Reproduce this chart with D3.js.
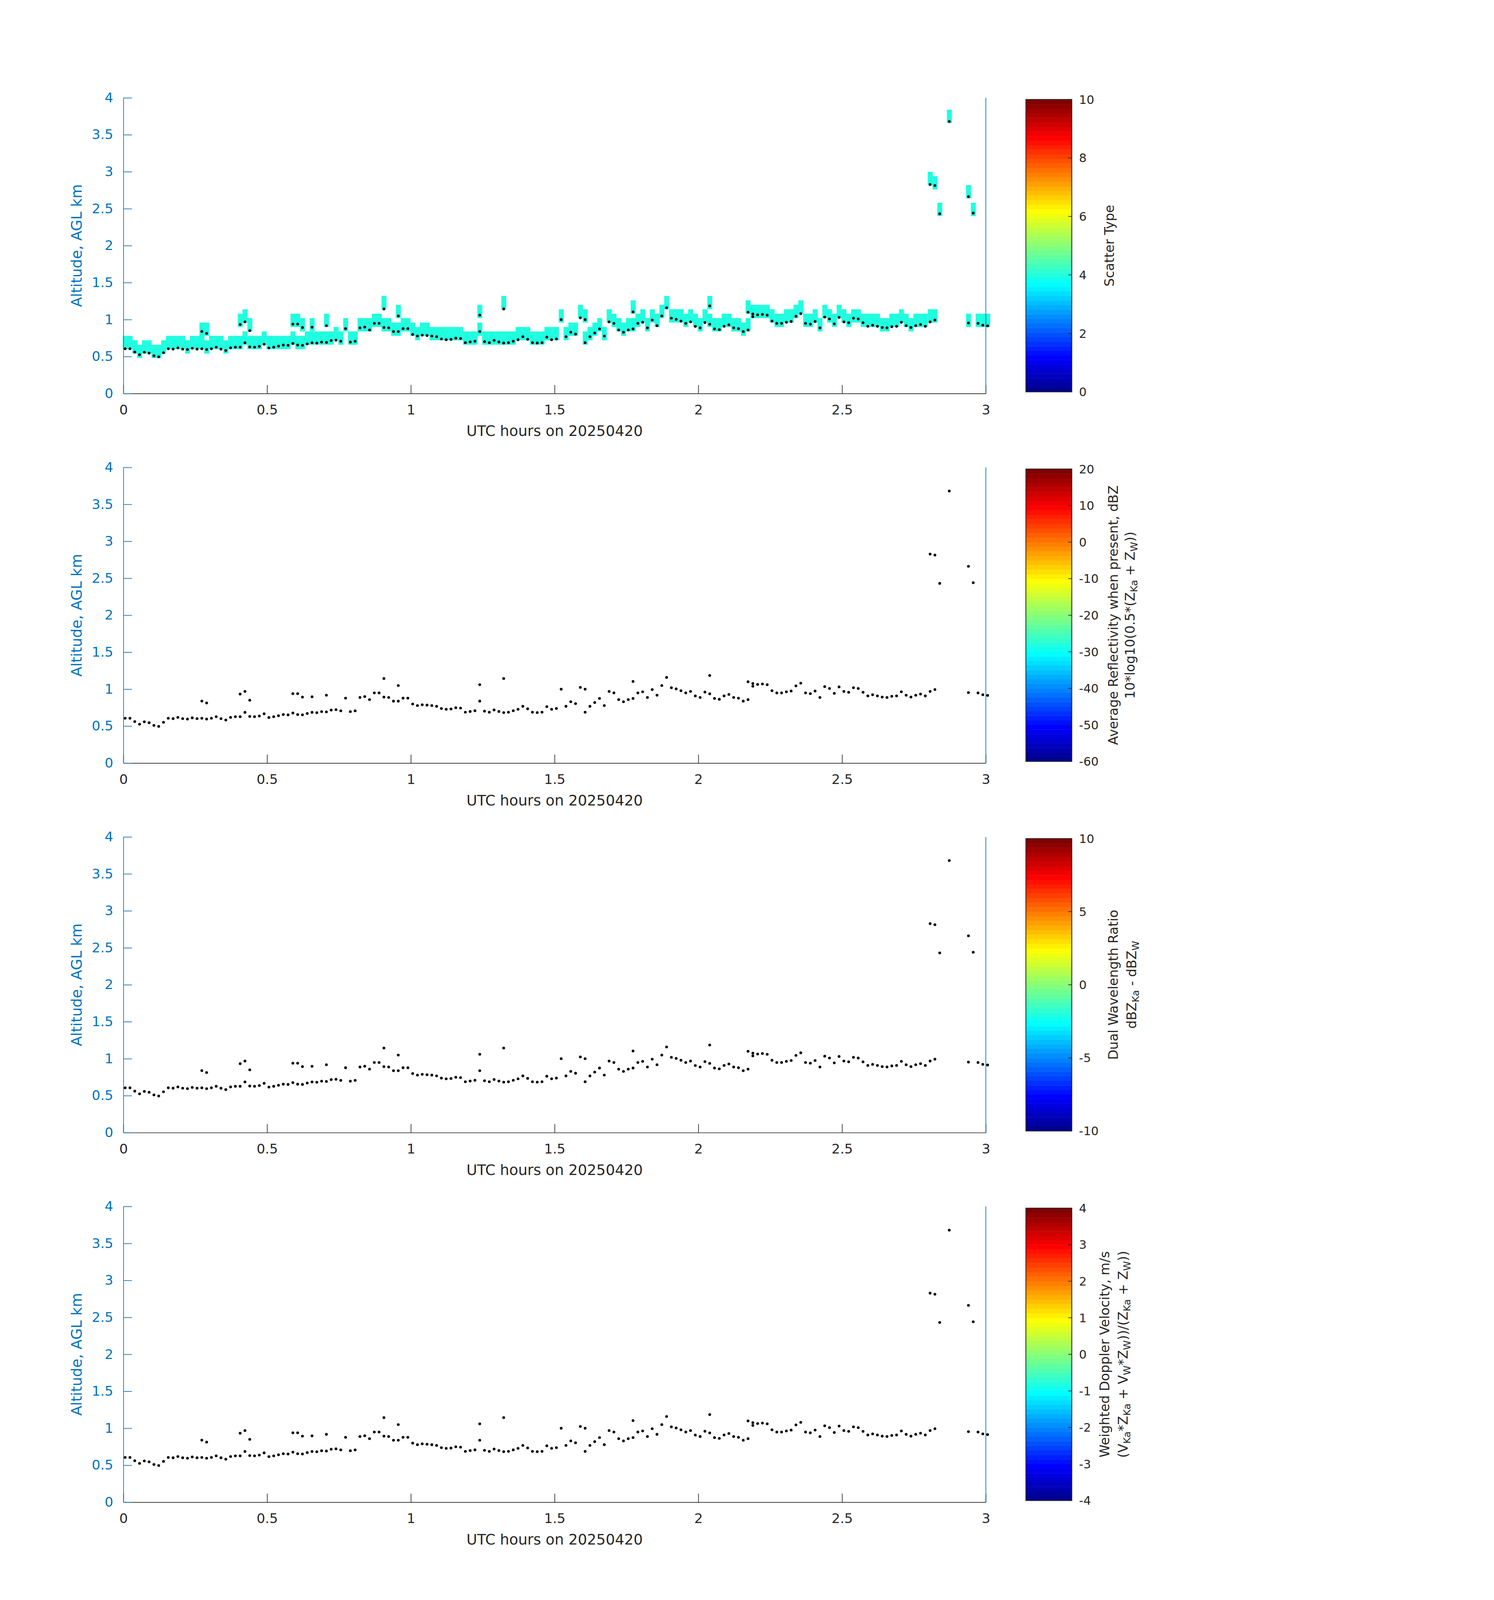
<!DOCTYPE html>
<html>
<head>
<meta charset="utf-8">
<script src="https://cdn.jsdelivr.net/npm/d3@7"></script>
<style>
html, body { margin: 0; padding: 0; background: #fff; overflow: hidden; }
#canvas svg { display: block; }
text { font-family: "DejaVu Sans", sans-serif; }
</style>
</head>
<body>
<div id="canvas"></div>
<script>
// cloud base altitude (km AGL), one value per 1-minute sample, null = nothing detected
var baseAlt = [
  0.606, 0.606, 0.561, 0.525, 0.558, 0.546, 0.510, 0.496, 0.552, 0.606,
  0.601, 0.618, 0.601, 0.595, 0.612, 0.601, 0.606, 0.595, 0.606, 0.627,
  0.601, 0.582, 0.618, 0.627, 0.627, 0.686, 0.631, 0.627, 0.637, 0.667,
  0.616, 0.627, 0.641, 0.656, 0.652, 0.677, 0.656, 0.652, 0.671, 0.686,
  0.682, 0.696, 0.692, 0.717, 0.722, 0.707, 0.878, 0.696, 0.707, 0.888,
  0.899, 0.859, 0.949, 0.949, 0.893, 0.888, 0.838, 0.838, 0.878, 0.878,
  0.799, 0.778, 0.789, 0.784, 0.778, 0.768, 0.738, 0.728, 0.732, 0.749,
  0.744, 0.688, 0.698, 0.708, 0.838, 0.702, 0.688, 0.719, 0.698, 0.683,
  0.688, 0.708, 0.728, 0.768, 0.734, 0.688, 0.683, 0.688, 0.763, 0.728,
  0.738, 1.000, 0.768, 0.829, 0.804, 1.024, 0.688, 0.768, 0.819, 0.874,
  0.778, 0.969, 0.949, 0.859, 0.829, 0.859, 0.874, 0.949, 0.964, 0.888,
  0.994, 0.918, 1.049, 1.159, 1.019, 1.004, 0.979, 0.949, 0.969, 0.908,
  0.888, 0.960, 0.937, 0.874, 0.863, 0.909, 0.929, 0.888, 0.878, 0.838,
  0.859, 1.039, 1.064, 1.070, 1.060, 0.979, 0.949, 0.949, 0.964, 0.975,
  1.045, 1.080, 0.949, 0.939, 0.975, 0.888, 1.034, 1.009, 0.943, 1.030,
  0.969, 0.958, 1.019, 1.009, 0.958, 0.909, 0.924, 0.909, 0.893, 0.888,
  0.903, 0.909, 0.964, 0.918, 0.893, 0.918, 0.933, 0.909, 0.969, 0.994,
  null, null, null, null, null, null, 0.954, null, 0.949, 0.924,
  0.915
]
// second (upper) layer detections: sample index and altitude
var upperIdx = [16, 17, 24, 25, 26, 35, 36, 37, 39, 42, 54, 57, 74, 79, 96, 106,
  122, 130, 131, 168, 169, 170, 172, 176, 177]
var upperAlt = [0.839, 0.813, 0.933, 0.969, 0.850, 0.939, 0.939, 0.893, 0.897, 0.918,
  1.144, 1.049, 1.060, 1.144, 1.000, 1.104, 1.185, 1.100, 1.076, 2.827,
  2.813, 2.431, 3.680, 2.662, 2.440]

var sampleOffsetMin = 0.37   // first sample time, minutes after 00 UTC
var gateKm = 0.06            // radar range gate
var cellGates = 3            // gates marked per detection
var scatterType = 4

var hourTicks = [0, 0.5, 1, 1.5, 2, 2.5, 3]
var altTicks = [0, 0.5, 1, 1.5, 2, 2.5, 3, 3.5, 4]

var cbDomains = [[0, 10], [-60, 20], [-10, 10], [-4, 4]]
var cbTicks = [
  [0, 2, 4, 6, 8, 10],
  [-60, -50, -40, -30, -20, -10, 0, 10, 20],
  [-10, -5, 0, 5, 10],
  [-4, -3, -2, -1, 0, 1, 2, 3, 4]
]
// label lines; [text, isSubscript]
var cbLabels = [
  [[['Scatter Type', 0]]],
  [[['Average Reflectivity when present, dBZ', 0]],
   [['10*log10(0.5*(Z', 0], ['Ka', 1], [' + Z', 0], ['W', 1], ['))', 0]]],
  [[['Dual Wavelength Ratio', 0]],
   [['dBZ', 0], ['Ka', 1], [' - dBZ', 0], ['W', 1]]],
  [[['Weighted Doppler Velocity, m/s', 0]],
   [['(V', 0], ['Ka', 1], ['*Z', 0], ['Ka', 1], [' + V', 0], ['W', 1], ['*Z', 0], ['W', 1],
    ['))/(Z', 0], ['Ka', 1], [' + Z', 0], ['W', 1], ['))', 0]]]
]
var cbLabelX = [[3380], [3392, 3443], [3392, 3448], [3366, 3422]]

var blue = '#0072BD'
var dark = '#262626'

function jet(m) {
    var n = Math.ceil(m / 4)
    var u = []
    for (var j = 0; j < 3 * n - 1; j++) {
        if (j < n) u.push((j + 1) / n)
        else if (j < 2 * n - 1) u.push(1)
        else u.push((3 * n - 1 - j) / n)
    }
    var map = []
    for (var r = 0; r < m; r++) map.push([0, 0, 0])
    var g0 = Math.ceil(n / 2) - (m % 4 == 1 ? 1 : 0)
    u.forEach(function(v, j) {
        var g = g0 + j, rr = g + n, b = g - n
        if (rr >= 0 && rr < m) map[rr][0] = v
        if (g >= 0 && g < m) map[g][1] = v
        if (b >= 0 && b < m) map[b][2] = v
    })
    return map.map(function(c) {
        return d3.rgb(c[0] * 255, c[1] * 255, c[2] * 255).formatHex()
    })
}
var cmap = jet(64)
function cmapColor(v, dom) {
    var k = Math.floor((v - dom[0]) / (dom[1] - dom[0]) * cmap.length)
    return cmap[Math.max(0, Math.min(cmap.length - 1, k))]
}

function addLabel(sel, lines, xs, cy, size) {
    lines.forEach(function(line, li) {
        var t = sel.append('text')
            .attr('transform', 'translate(' + xs[li] + ',' + cy + ') rotate(-90)')
            .attr('text-anchor', 'middle')
            .attr('dominant-baseline', 'central')
            .attr('font-size', size)
            .attr('fill', dark)
        var shifted = false
        line.forEach(function(seg) {
            var ts = t.append('tspan').text(seg[0])
            if (seg[1]) {
                ts.attr('font-size', size * 0.75)
                if (!shifted) ts.attr('dy', size * 0.3)
                shifted = true
            } else {
                ts.attr('font-size', size)
                if (shifted) ts.attr('dy', -size * 0.3)
                shifted = false
            }
        })
    })
}

function draw() {
    var W = 3825, H = 4875
    // flatten detections
    var dots = []
    baseAlt.forEach(function(a, i) { if (a != null) dots.push({i: i, alt: a}) })
    upperIdx.forEach(function(i, k) { dots.push({i: i, alt: upperAlt[k]}) })

    var svg = d3.select('#canvas').append('svg')
        .attr('viewBox', '0 0 ' + W + ' ' + H)
        .attr('preserveAspectRatio', 'xMinYMin meet')
        .style('width', '100vw')
        .style('height', '100vh')

    var x0 = 376, x1 = 3004
    var firstTop = 298, plotH = 901, panelStep = 1126
    var x = d3.scaleLinear().domain([0, 3]).range([x0, x1])
    var tHour = function(i) { return (i + sampleOffsetMin) / 60 }

    var tickFont = 41, labelFont = 44.5, cbFont = 36.5, cbLabelFont = 40

    for (var p = 0; p < 4; p++) {
        var pTop = firstTop + p * panelStep
        var pBot = pTop + plotH
        var y = d3.scaleLinear().domain([0, 4]).range([pBot, pTop])
        var g = svg.append('g').attr('class', 'panel')

        if (p == 0) {
            g.append('g').selectAll('rect')
                .data(dots)
                .enter().append('rect')
                .attr('x', function(d) { return x(tHour(d.i - 0.5)) })
                .attr('width', function(d) { return x(tHour(d.i + 0.5)) - x(tHour(d.i - 0.5)) + 0.6 })
                .attr('y', function(d) { return y((Math.floor(d.alt / gateKm) + cellGates) * gateKm) })
                .attr('height', function(d) { return y(0) - y(cellGates * gateKm) })
                .attr('fill', cmapColor(scatterType, cbDomains[0]))
        }

        g.append('g').selectAll('circle')
            .data(dots)
            .enter().append('circle')
            .attr('cx', function(d) { return x(tHour(d.i)) })
            .attr('cy', function(d) { return y(d.alt) })
            .attr('r', 4.2)
            .attr('fill', '#000')

        // x axis
        var xa = g.append('g')
            .attr('transform', 'translate(0,' + pBot + ')')
            .call(d3.axisBottom(x).tickValues(hourTicks).tickFormat(String)
                .tickSizeInner(-26).tickSizeOuter(0).tickPadding(35))
        xa.select('.domain').attr('stroke', dark).attr('stroke-width', 2)
        xa.selectAll('.tick line').attr('stroke', dark).attr('stroke-width', 2)
        xa.selectAll('.tick text').attr('fill', dark).attr('font-size', tickFont)
            .attr('font-family', '"DejaVu Sans", sans-serif')

        // y axis
        var ya = g.append('g')
            .attr('transform', 'translate(' + x0 + ',0)')
            .call(d3.axisLeft(y).tickValues(altTicks).tickFormat(String)
                .tickSizeInner(-26).tickSizeOuter(0).tickPadding(31))
        ya.select('.domain').attr('stroke', blue).attr('stroke-width', 2)
        ya.selectAll('.tick line').attr('stroke', blue).attr('stroke-width', 2)
        ya.selectAll('.tick text').attr('fill', blue).attr('font-size', tickFont)
            .attr('font-family', '"DejaVu Sans", sans-serif')

        g.append('line')
            .attr('x1', x1).attr('x2', x1)
            .attr('y1', pTop).attr('y2', pBot)
            .attr('stroke', blue).attr('stroke-width', 2)

        g.append('text')
            .attr('x', (x0 + x1) / 2)
            .attr('y', pBot + 129)
            .attr('text-anchor', 'middle')
            .attr('font-size', labelFont)
            .attr('fill', dark)
            .text('UTC hours on 20250420')

        g.append('text')
            .attr('transform', 'translate(249,' + (pTop + pBot) / 2 + ') rotate(-90)')
            .attr('text-anchor', 'middle')
            .attr('font-size', labelFont)
            .attr('fill', blue)
            .text('Altitude, AGL km')

        // colorbar
        var cbL = 3126, cbR = 3266, cbTop = pTop + 5, cbBot = pBot - 5
        var dom = cbDomains[p]
        var cy = d3.scaleLinear().domain(dom).range([cbBot, cbTop])
        var step = (dom[1] - dom[0]) / cmap.length
        var cb = g.append('g')
        cb.selectAll('rect.band')
            .data(cmap)
            .enter().append('rect')
            .attr('class', 'band')
            .attr('x', cbL)
            .attr('width', cbR - cbL)
            .attr('y', function(c, k) { return cy(dom[0] + (k + 1) * step) })
            .attr('height', function(c, k) { return cy(dom[0] + k * step) - cy(dom[0] + (k + 1) * step) + 0.5 })
            .attr('fill', function(c) { return c })
        cb.append('rect')
            .attr('x', cbL).attr('y', cbTop)
            .attr('width', cbR - cbL).attr('height', cbBot - cbTop)
            .attr('fill', 'none').attr('stroke', dark).attr('stroke-width', 2.5)
        cb.selectAll('line.tk')
            .data(cbTicks[p])
            .enter().append('line')
            .attr('class', 'tk')
            .attr('x1', cbR - 11).attr('x2', cbR)
            .attr('y1', function(v) { return cy(v) })
            .attr('y2', function(v) { return cy(v) })
            .attr('stroke', dark).attr('stroke-width', 2)
        cb.selectAll('text.tl')
            .data(cbTicks[p])
            .enter().append('text')
            .attr('class', 'tl')
            .attr('x', 3288)
            .attr('y', function(v) { return cy(v) })
            .attr('dy', '0.36em')
            .attr('font-size', cbFont)
            .attr('fill', dark)
            .text(function(v) { return String(v) })

        addLabel(cb, cbLabels[p], cbLabelX[p], (cbTop + cbBot) / 2, cbLabelFont)
    }
}

draw()
</script>
</body>
</html>
